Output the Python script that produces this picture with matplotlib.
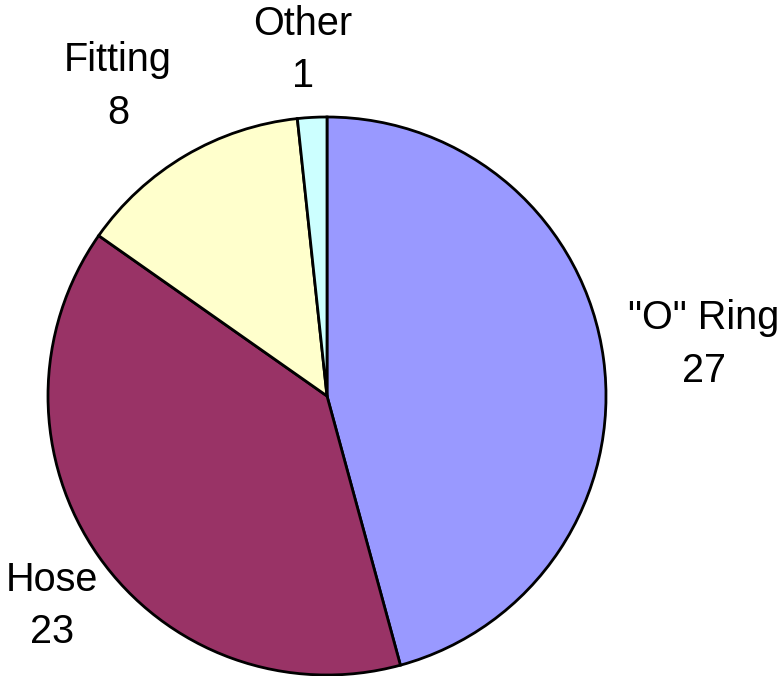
import matplotlib
matplotlib.use("Agg")
import matplotlib.pyplot as plt

plt.rcParams["font.family"] = ["Liberation Sans", "DejaVu Sans"]

labels = ['"O" Ring', "Hose", "Fitting", "Other"]
values = [27, 23, 8, 1]
colors = ["#9999FF", "#993366", "#FFFFCC", "#CCFFFF"]

# label centres relative to the pie centre, in radii
label_pos = [(1.351, 0.185), (-0.986, -0.752), (-0.749, 1.11), (-0.086, 1.24)]

fig = plt.figure(figsize=(7.83, 6.76), dpi=100)
ax = fig.add_axes([0, 0, 1, 1])

wedges, _ = ax.pie(values, colors=colors, startangle=90, counterclock=False,
                   wedgeprops=dict(edgecolor="black", linewidth=2))

for lab, v, (x, y) in zip(labels, values, label_pos):
    ax.text(x, y, f"{lab}\n{v}", ha="center", va="center",
            fontsize=28.5, linespacing=1.48)

# pie centre at (327, 396) px, radius 279 px
R = 279
ax.set_xlim(-327 / R, (783 - 327) / R)
ax.set_ylim(-(676 - 396) / R, 396 / R)
ax.set_aspect("equal")
ax.axis("off")

fig.savefig("out.png", dpi=100)
